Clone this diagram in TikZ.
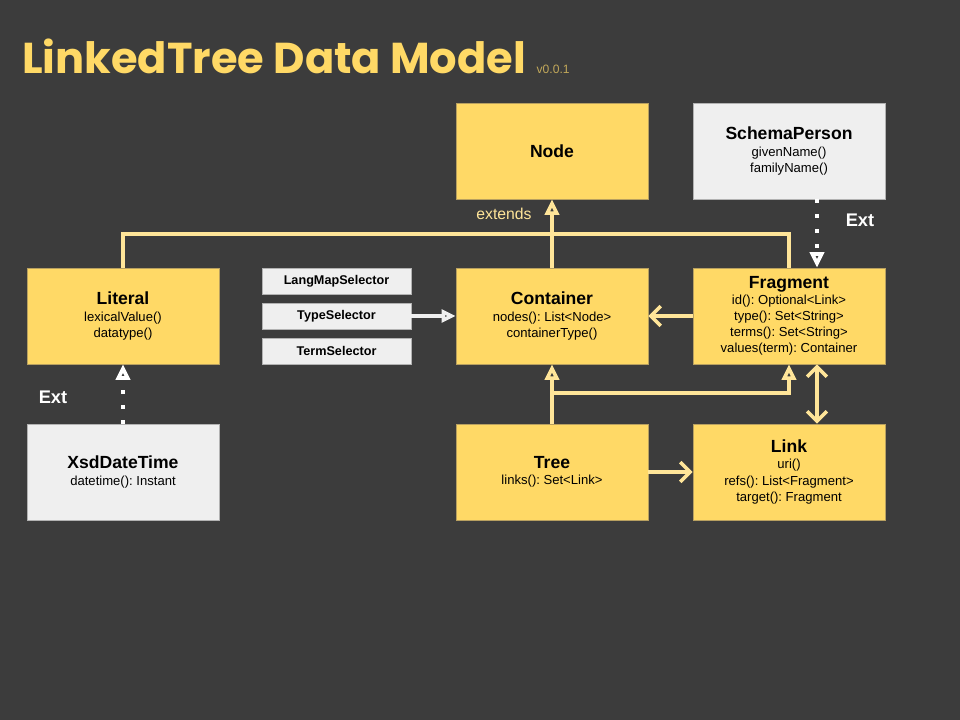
\documentclass[tikz,border=0pt]{standalone}
\usepackage{fontspec}
\setmainfont{Liberation Sans}
\newfontfamily\titlefont{Poppins}
\usetikzlibrary{arrows.meta}
\frenchspacing

\definecolor{bg}{HTML}{3C3C3C}
\definecolor{boxyellow}{HTML}{FFD966}
\definecolor{boxgray}{HTML}{EFEFEF}
\definecolor{lineyellow}{HTML}{FFE599}
\definecolor{boxedge}{HTML}{B8A060}
\definecolor{versioncol}{HTML}{C2A85A}

\newcommand{\clsname}[1]{{\fontsize{12.5}{15}\selectfont\bfseries #1}}

\begin{document}
\begin{tikzpicture}[x=0.025cm, y=-0.025cm,
    box/.style={draw=boxedge, line width=0.5pt, fill=boxyellow, text=black,
        minimum width=4.8cm, minimum height=2.4cm, inner sep=0pt, align=center,
        font=\fontsize{9.3}{11.4}\selectfont},
    extbox/.style={box, fill=boxgray, draw=gray!60},
    selbox/.style={draw=gray!60, line width=0.5pt, fill=boxgray, text=black,
        minimum width=3.725cm, minimum height=0.65cm, inner sep=0pt,
        font=\fontsize{9}{11}\selectfont\bfseries},
    inh/.style={draw=lineyellow, line width=2.5pt, -{Triangle[open, length=11pt, width=10pt]}},
    bus/.style={draw=lineyellow, line width=2.5pt},
    assoc/.style={draw=lineyellow, line width=2.5pt, -{Straight Barb[length=7pt, width=14pt]}},
    ext/.style={draw=white, line width=2.6pt, dash pattern=on 2.6pt off 8pt,
        -{Triangle[open, length=11pt, width=10pt]}},
    sel/.style={draw=boxgray, line width=2.5pt, -{Triangle[open, length=10pt, width=9pt]}},
    tag/.style={text=white, font=\fontsize{13}{15}\selectfont\bfseries}]

% Background
\fill[bg] (0,0) rectangle (960,720);
\useasboundingbox (0,0) rectangle (960,720);

% Title --------------------------------------
\node[anchor=base west, inner sep=0pt, text=boxyellow,
    font=\titlefont\bfseries\fontsize{30.7}{31}\selectfont] (title) at (22,74) {LinkedTree Data Model};
\node[anchor=base west, inner sep=0pt, text=versioncol, font=\fontsize{8.6}{10}\selectfont]
    (version) at ([xshift=0.25cm]title.base east) {v0.0.1};

% Classes --------------------------------------
\node[box] (node) at (552,151) {\clsname{Node}};
\node[extbox] (schema) at (789,151) {\clsname{SchemaPerson}\\givenName()\\familyName()};
\node[box] (literal) at (123,316) {\clsname{Literal}\\lexicalValue()\\datatype()};
\node[box] (container) at (552,316) {\clsname{Container}\\nodes(): List<Node>\\containerType()};
\node[box] (fragment) at (789,316) {\clsname{Fragment}\\id(): Optional<Link>\\type(): Set<String>\\terms(): Set<String>\\values(term): Container};
\node[extbox] (xsd) at (123,472) {\clsname{XsdDateTime}\\datetime(): Instant};
\node[box] (tree) at (552,472) {\clsname{Tree}\\links(): Set<Link>};
\node[box] (link) at (789,472) {\clsname{Link}\\uri()\\refs(): List<Fragment>\\target(): Fragment};

% Selectors
\node[selbox] (langsel) at (336.5,281) {LangMapSelector};
\node[selbox] (typesel) at (336.5,316) {TypeSelector};
\node[selbox] (termsel) at (336.5,351) {TermSelector};

% Inheritance --------------------------------------
\coordinate (join) at (552,234);
\draw[inh] (container.north) -- (node.south);
\draw[bus] (literal.north) |- (join);
\draw[bus] (fragment.north) |- (join);
\node[text=lineyellow, font=\fontsize{11.2}{13}\selectfont] (extends) at (504,214) {extends};

\coordinate (treejoin) at (552,393);
\draw[inh] (tree.north) -- (container.south);
\draw[inh] (treejoin) -| (fragment.south);

% Extensions
\draw[ext] ([xshift=0.7cm]schema.south) -- ([xshift=0.7cm]fragment.north);
\node[tag] (ext1) at (860,220) {Ext};
\draw[ext] (xsd.north) -- (literal.south);
\node[tag] (ext2) at (53,397) {Ext};

% Associations --------------------------------------
\draw[sel] (typesel.east) -- (container.west);
\draw[assoc] (fragment.west) -- (container.east);
\draw[assoc] (tree.east) -- (link.west);
\draw[assoc, {Straight Barb[length=7pt, width=14pt]}-{Straight Barb[length=7pt, width=14pt]}]
    ([xshift=0.7cm]fragment.south) -- ([xshift=0.7cm]link.north);

\end{tikzpicture}
\end{document}
